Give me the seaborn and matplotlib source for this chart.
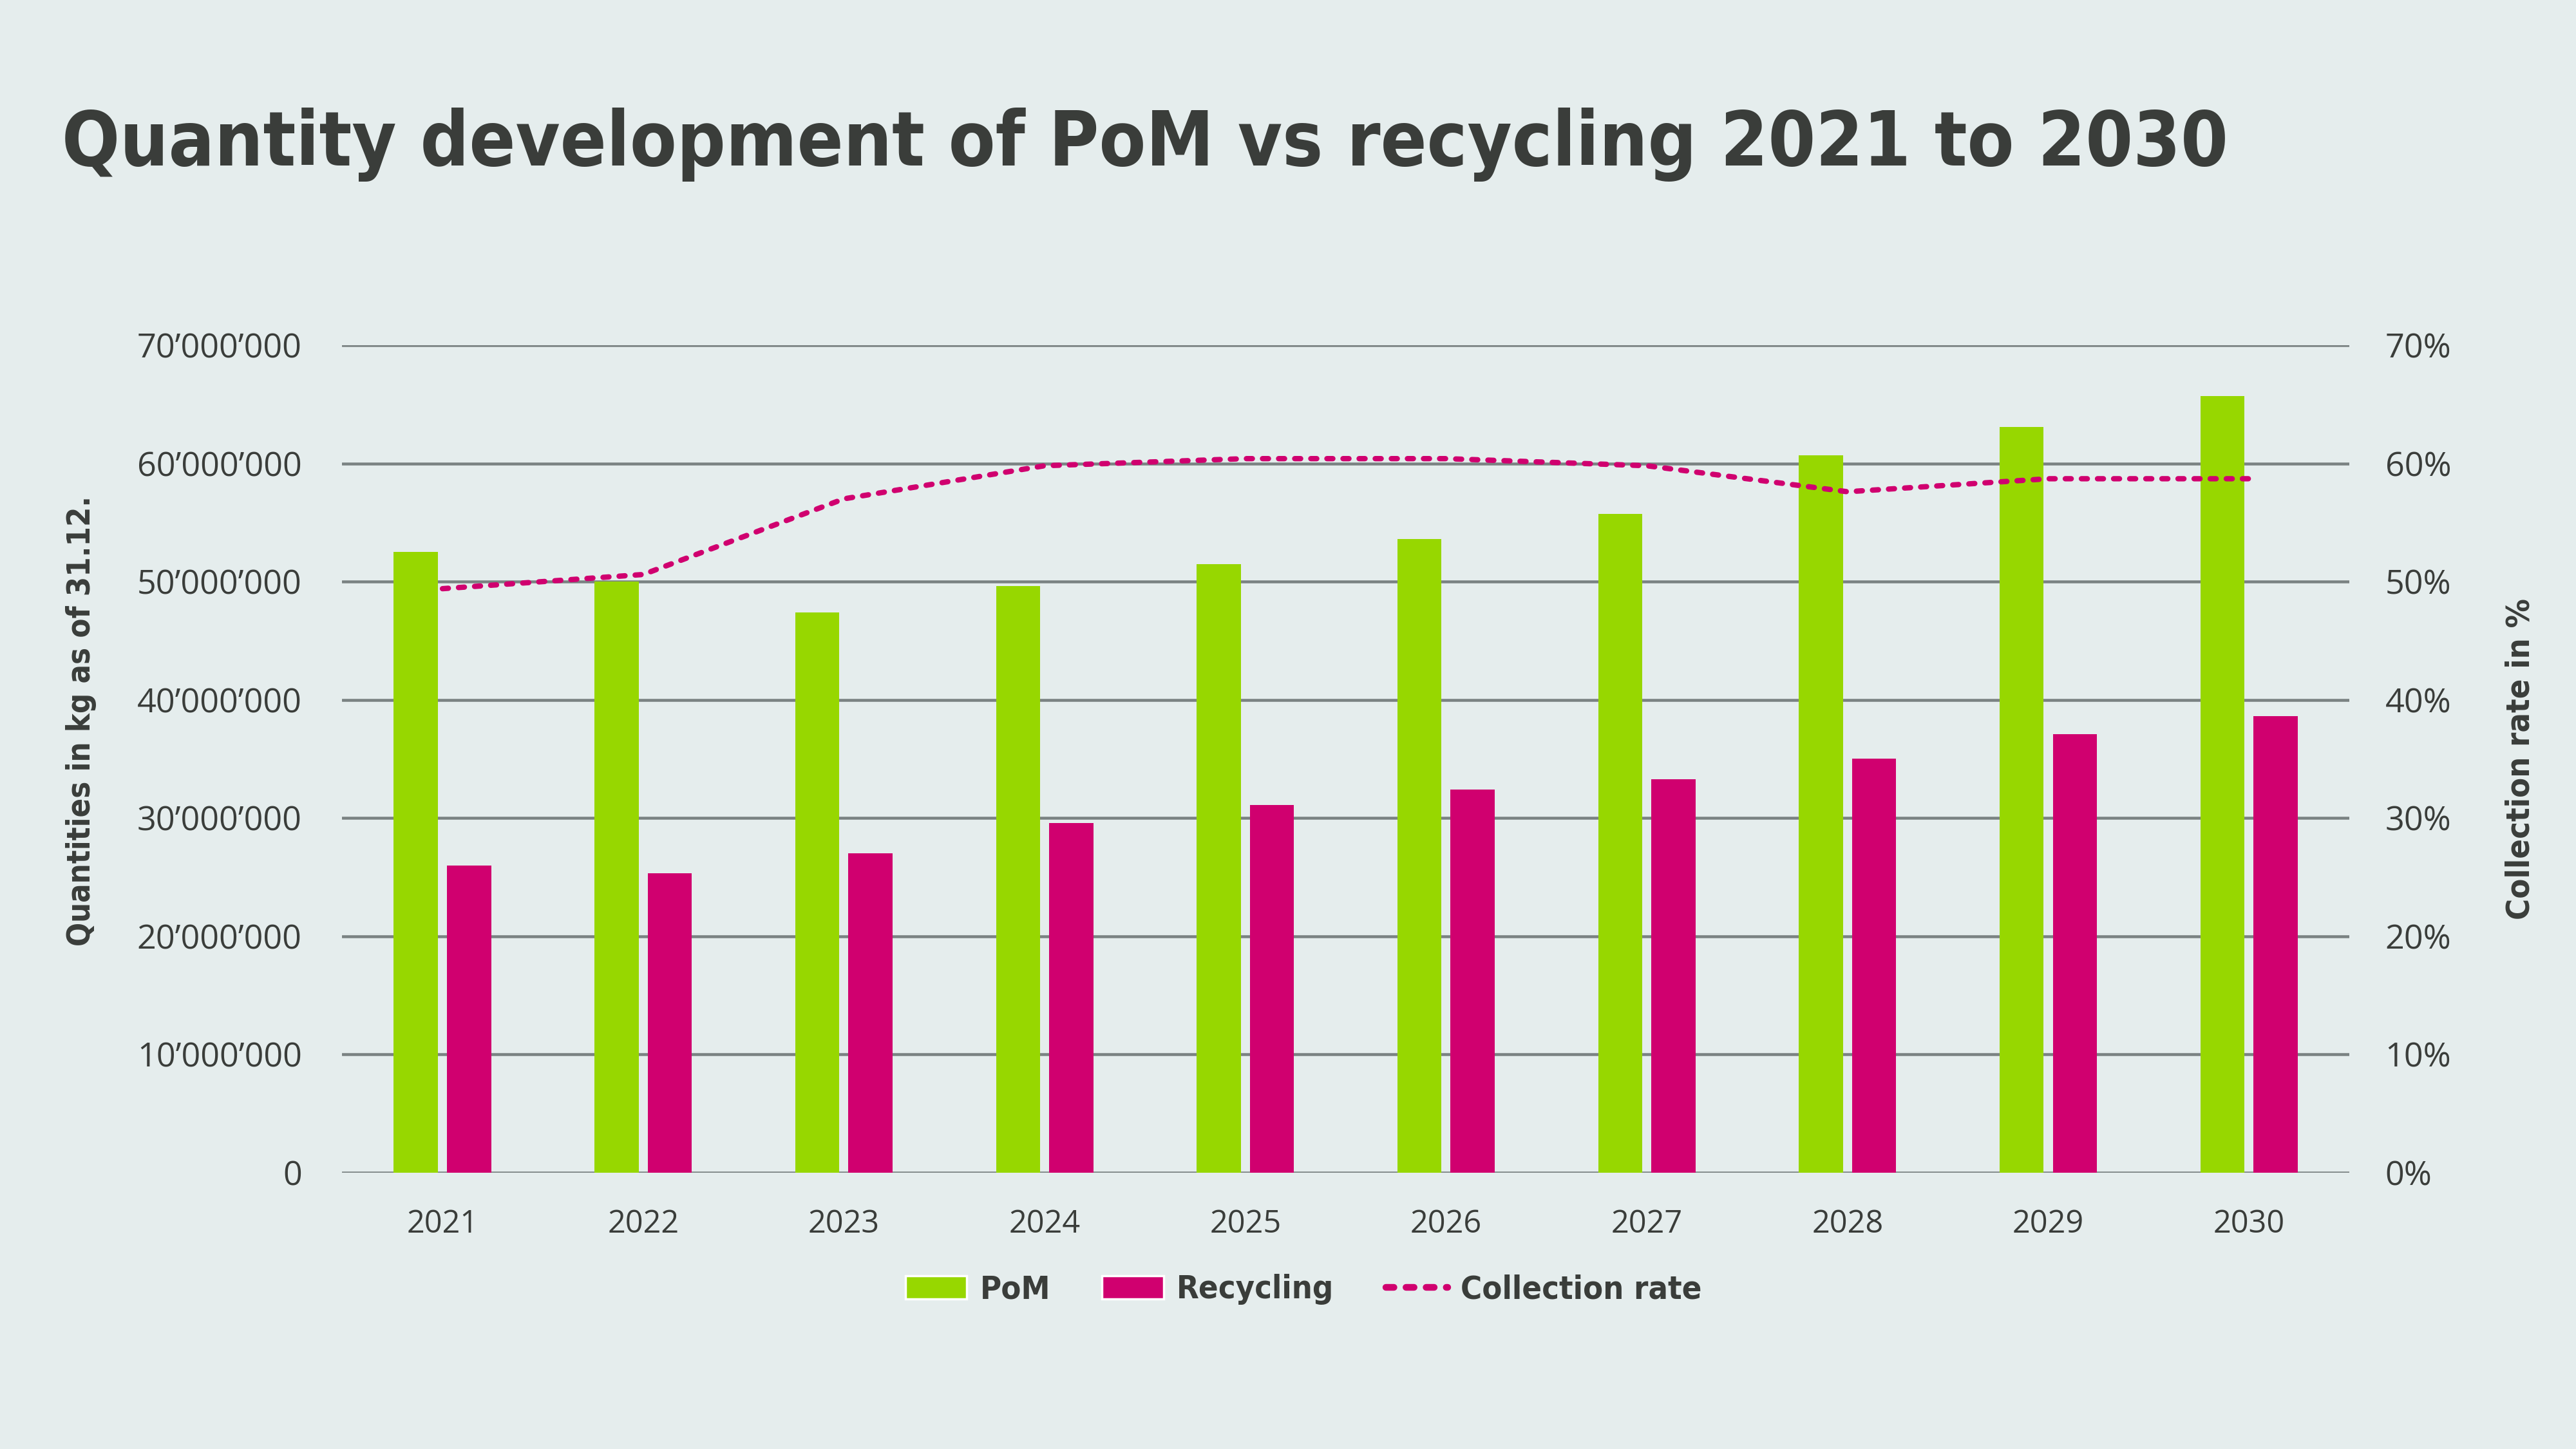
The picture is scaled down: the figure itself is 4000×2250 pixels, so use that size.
import numpy as np
import pandas as pd
import matplotlib.pyplot as plt
import matplotlib.ticker as mticker
from matplotlib.patches import Patch
from matplotlib.lines import Line2D
import seaborn as sns

# Data
years = ["2021", "2022", "2023", "2024", "2025", "2026", "2027", "2028", "2029", "2030"]
pom = [52.5e6, 50.0e6, 47.4e6, 49.6e6, 51.5e6, 53.6e6, 55.7e6, 60.7e6, 63.1e6, 65.7e6]
recycling = [26.0e6, 25.3e6, 27.0e6, 29.6e6, 31.1e6, 32.4e6, 33.3e6, 35.0e6, 37.1e6, 38.6e6]
collection_rate = [49.4, 50.6, 57.0, 59.8, 60.4, 60.4, 59.8, 57.6, 58.7, 58.7]

# Colours
bg = "#e5eded"
green = "#97d700"
magenta = "#d0006f"
text_col = "#3a3d3a"
grid_col = "#7a8282"

sns.set_theme(style="white")
plt.rcParams["font.family"] = ["Open Sans", "DejaVu Sans"]
narrow = dict(family=["DejaVu Sans"], fontstretch="condensed", fontweight="bold")

df = pd.DataFrame({"Year": years, "PoM": pom, "Recycling": recycling})
long = df.melt(id_vars="Year", var_name="Series", value_name="Value")
rate = pd.DataFrame({"Year": years, "Rate": collection_rate})

fig = plt.figure(figsize=(16, 9), dpi=250, facecolor=bg)
ax = fig.add_axes([0.1328, 0.1907, 0.912 - 0.1328, 0.7618 - 0.1907])
ax.set_facecolor(bg)

sns.barplot(data=long, x="Year", y="Value", hue="Series",
            hue_order=["PoM", "Recycling"], palette=[green, magenta],
            width=0.53, gap=0.17, saturation=1, linewidth=0,
            ax=ax, legend=False, zorder=3)

ax.set_xlim(-0.5, len(years) - 0.5)
ax.set_ylim(0, 70e6)
ax.yaxis.set_major_locator(mticker.MultipleLocator(10e6))
ax.yaxis.set_major_formatter(mticker.FuncFormatter(
    lambda v, p: "0" if v == 0 else f"{v:,.0f}".replace(",", "\u2019")))
ax.grid(axis="y", color=grid_col, linewidth=1.3, zorder=0)
ax.set_axisbelow(True)
for s in ax.spines.values():
    s.set_visible(False)
ax.tick_params(axis="both", length=0, colors=text_col)
ax.tick_params(axis="y", labelsize=15, pad=18)
ax.tick_params(axis="x", labelsize=14, pad=16)
ax.set_xlabel("")
ax.set_ylabel("Quantities in kg as of 31.12.", fontsize=14, color=text_col,
              labelpad=18, **narrow)
ax.yaxis.label.set_y(0.546)

ax2 = ax.twinx()
sns.lineplot(data=rate, x="Year", y="Rate", ax=ax2, color=magenta,
             linewidth=2.4, zorder=4)
ln = ax2.get_lines()[0]
ln.set_dashes((1.1, 1.9))
ln.set_dash_capstyle("round")
ax2.set_ylim(0, 70)
ax2.yaxis.set_major_locator(mticker.MultipleLocator(10))
ax2.yaxis.set_major_formatter(mticker.FuncFormatter(lambda v, p: f"{v:.0f}%"))
for s in ax2.spines.values():
    s.set_visible(False)
ax2.tick_params(axis="y", length=0, labelsize=15, pad=16, colors=text_col)
ax2.set_ylabel("Collection rate in %", fontsize=14.5, color=text_col,
               labelpad=24, **narrow)
ax2.grid(False)

fig.text(0.024, 0.90, "Quantity development of PoM vs recycling 2021 to 2030",
         fontsize=34, color=text_col, va="center", ha="left", **narrow)

handles = [Patch(facecolor=green, label="PoM"),
           Patch(facecolor=magenta, label="Recycling"),
           Line2D([0], [0], color=magenta, linewidth=3, dashes=(1.2, 1.8),
                  dash_capstyle="round", label="Collection rate")]
fig.legend(handles=handles, loc="center", bbox_to_anchor=(0.506, 0.11), ncol=3,
           frameon=False, handlelength=1.9, handletextpad=0.4, columnspacing=1.6,
           prop={"family": "DejaVu Sans", "stretch": "condensed",
                 "weight": "bold", "size": 14.5},
           labelcolor=text_col)

fig.savefig("out.png", dpi=250, facecolor=bg)
